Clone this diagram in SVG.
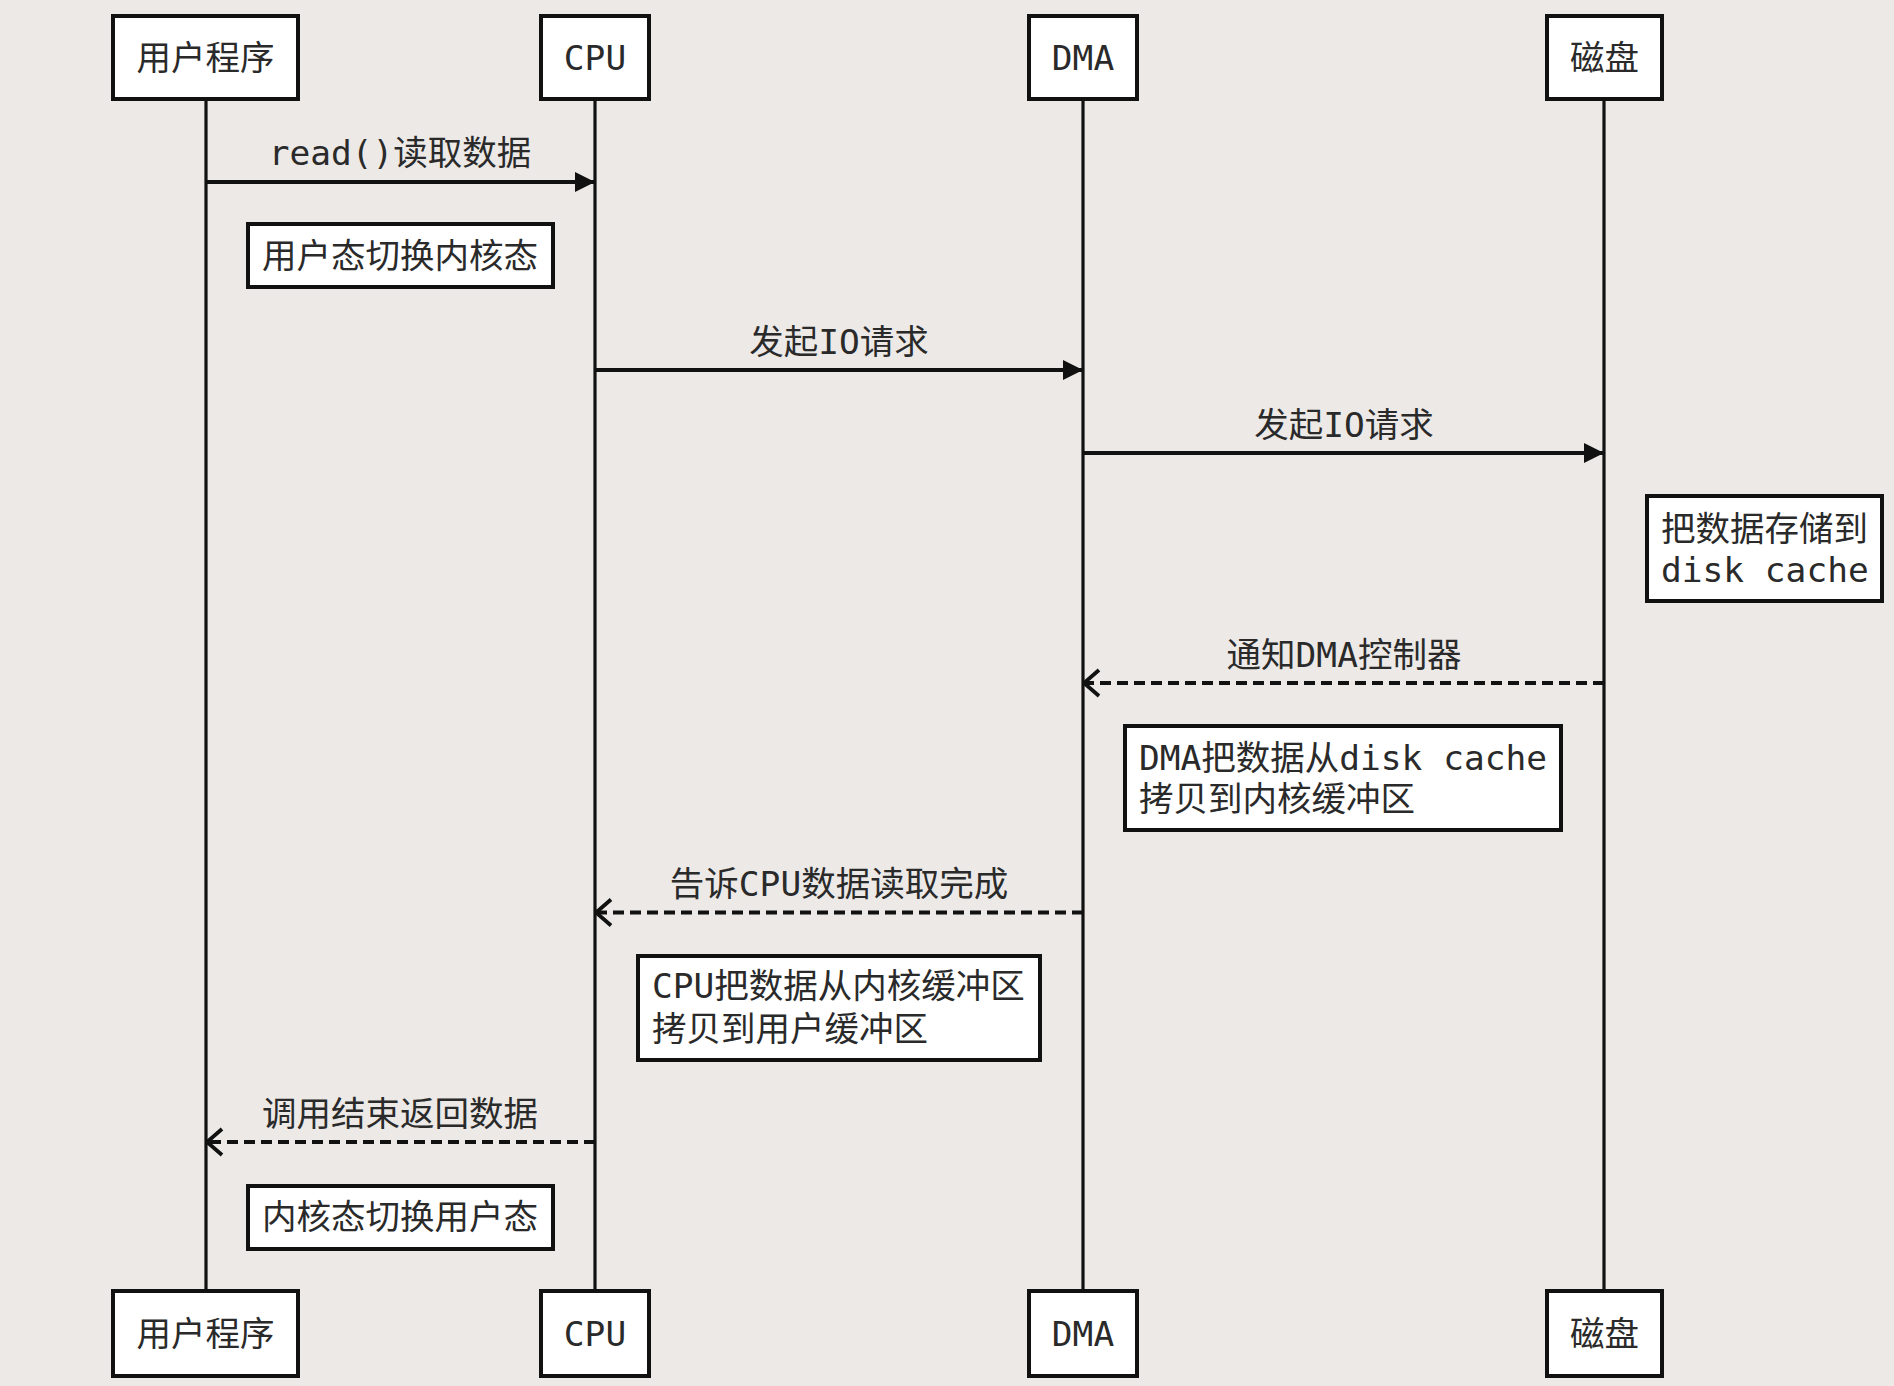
<svg xmlns="http://www.w3.org/2000/svg" width="1894" height="1386" viewBox="0 0 1894 1386">
<defs>
<style>
.bg{fill:#ECE9E7}
.box{fill:#FFFFFF;stroke:#111;stroke-width:4}
.life{stroke:#111;stroke-width:3.2;fill:none}
.msg{stroke:#111;stroke-width:3.8;fill:none}
.dash{stroke-dasharray:11 6}
text{font-family:"DejaVu Sans Mono","Noto Sans CJK SC",monospace;font-size:34.5px;fill:#2A2A2A}
.c{text-anchor:middle}
</style>
<marker id="solid" viewBox="0 0 20 20" markerWidth="20" markerHeight="20" refX="20" refY="10" orient="auto" markerUnits="userSpaceOnUse">
<path d="M0,0 L20,10 L0,20 Z" fill="#111"/>
</marker>
<marker id="open" viewBox="0 0 20 30" markerWidth="20" markerHeight="30" refX="18" refY="15" orient="auto" markerUnits="userSpaceOnUse">
<path d="M3,2 L18,15 L3,28" fill="none" stroke="#111" stroke-width="3.8"/>
</marker>
</defs>
<rect class="bg" x="0" y="0" width="1894" height="1386"/>

<g id="lifelines">
<line class="life" x1="206" y1="99" x2="206" y2="1291"/>
<line class="life" x1="595" y1="99" x2="595" y2="1291"/>
<line class="life" x1="1083" y1="99" x2="1083" y2="1291"/>
<line class="life" x1="1604" y1="99" x2="1604" y2="1291"/>
</g>

<g id="node-user-top"><rect class="box" x="113" y="16" width="185" height="83"/><text class="c" x="205.5" y="70">用户程序</text></g>
<g id="node-cpu-top"><rect class="box" x="541" y="16" width="108" height="83"/><text class="c" x="595" y="70">CPU</text></g>
<g id="node-dma-top"><rect class="box" x="1029" y="16" width="108" height="83"/><text class="c" x="1083" y="70">DMA</text></g>
<g id="node-disk-top"><rect class="box" x="1547" y="16" width="115" height="83"/><text class="c" x="1604.5" y="70">磁盘</text></g>

<g id="node-user-bottom"><rect class="box" x="113" y="1291" width="185" height="85"/><text class="c" x="205.5" y="1346">用户程序</text></g>
<g id="node-cpu-bottom"><rect class="box" x="541" y="1291" width="108" height="85"/><text class="c" x="595" y="1346">CPU</text></g>
<g id="node-dma-bottom"><rect class="box" x="1029" y="1291" width="108" height="85"/><text class="c" x="1083" y="1346">DMA</text></g>
<g id="node-disk-bottom"><rect class="box" x="1547" y="1291" width="115" height="85"/><text class="c" x="1604.5" y="1346">磁盘</text></g>

<g id="connectors">
<line class="msg" x1="206" y1="182" x2="595" y2="182" marker-end="url(#solid)"/>
<text class="c" x="400" y="165">read()读取数据</text>
<line class="msg" x1="595" y1="370" x2="1083" y2="370" marker-end="url(#solid)"/>
<text class="c" x="839" y="354">发起IO请求</text>
<line class="msg" x1="1083" y1="453" x2="1604" y2="453" marker-end="url(#solid)"/>
<text class="c" x="1344" y="437">发起IO请求</text>
<line class="msg dash" x1="1604" y1="683" x2="1084" y2="683" marker-end="url(#open)"/>
<text class="c" x="1344" y="667">通知DMA控制器</text>
<line class="msg dash" x1="1083" y1="912.5" x2="596" y2="912.5" marker-end="url(#open)"/>
<text class="c" x="839" y="896">告诉CPU数据读取完成</text>
<line class="msg dash" x1="595" y1="1142" x2="207" y2="1142" marker-end="url(#open)"/>
<text class="c" x="400" y="1126">调用结束返回数据</text>
</g>

<g id="note-user-to-kernel"><rect class="box" x="248" y="224" width="305" height="63"/><text x="262" y="268">用户态切换内核态</text></g>
<g id="note-disk-cache"><rect class="box" x="1647" y="496" width="235" height="105"/><text x="1661" y="541">把数据存储到</text><text x="1661" y="582">disk cache</text></g>
<g id="note-dma-copy"><rect class="box" x="1125" y="726" width="436" height="104"/><text x="1139" y="770">DMA把数据从disk cache</text><text x="1139" y="811">拷贝到内核缓冲区</text></g>
<g id="note-cpu-copy"><rect class="box" x="638" y="956" width="402" height="104"/><text x="652" y="998">CPU把数据从内核缓冲区</text><text x="652" y="1041">拷贝到用户缓冲区</text></g>
<g id="note-kernel-to-user"><rect class="box" x="248" y="1186" width="305" height="63"/><text x="262" y="1229">内核态切换用户态</text></g>
</svg>
